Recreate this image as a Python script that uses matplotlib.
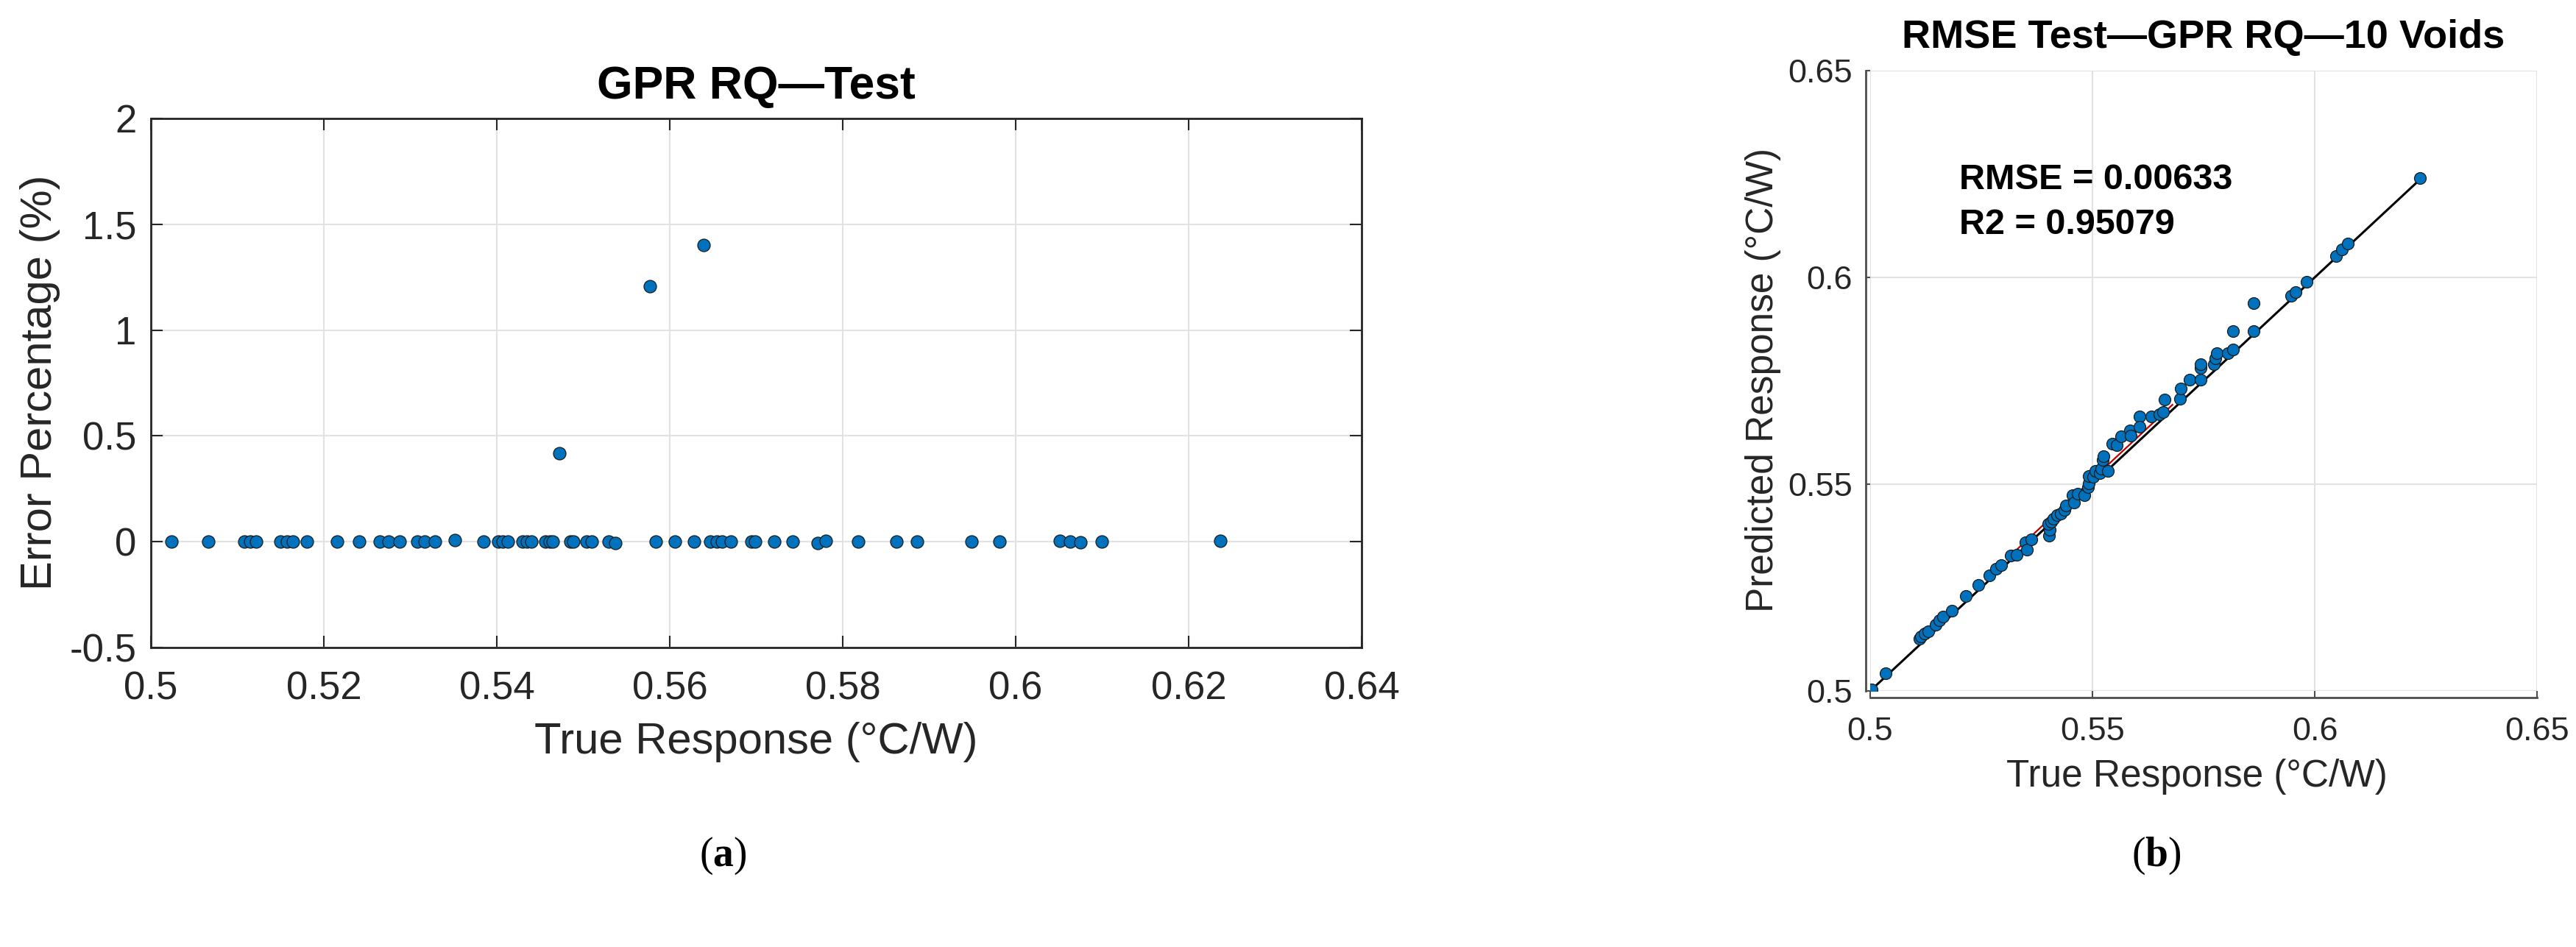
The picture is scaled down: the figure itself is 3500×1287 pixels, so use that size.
import matplotlib
matplotlib.use("Agg")
import matplotlib.pyplot as plt

W, H, DPI = 3500, 1287, 100
plt.rcParams['font.family'] = ['Liberation Sans', 'DejaVu Sans']
plt.rcParams['mathtext.fontset'] = 'custom'
plt.rcParams['mathtext.rm'] = 'Liberation Serif'
plt.rcParams['mathtext.bf'] = 'Liberation Serif:bold'

# ---------------- data ----------------
# (a) GPR RQ - Test : error percentage vs true response
err_true = [0.50242, 0.50660, 0.51078, 0.51145, 0.51221, 0.51496, 0.51572, 0.51639,
            0.51800, 0.52152, 0.52409, 0.52646, 0.52751, 0.52874, 0.53083, 0.53169,
            0.53283, 0.53511, 0.53843, 0.54014, 0.54071, 0.54128, 0.54299, 0.54347,
            0.54404, 0.54565, 0.54613, 0.54651, 0.54850, 0.54888, 0.55040, 0.55097,
            0.55297, 0.55373, 0.55838, 0.56057, 0.56285, 0.56466, 0.56542, 0.56608,
            0.56703, 0.56941, 0.56988, 0.57207, 0.57425, 0.57710, 0.57805, 0.58176,
            0.58622, 0.58860, 0.59487, 0.59810, 0.60513, 0.60627, 0.60751, 0.60998,
            0.62366, 0.54727, 0.55772, 0.56389]
err_pct = [0.0, 0.0, 0.0, 0.0, 0.0, 0.0, 0.0, 0.0,
           0.0, 0.0, 0.0, 0.0, 0.0, 0.0, 0.0, 0.0,
           0.0, 0.008, 0.0, 0.0, 0.0, 0.0, 0.0, 0.0,
           0.0, 0.0, 0.0, 0.0, 0.0, 0.0, 0.0, 0.0,
           0.0, -0.005, 0.0, 0.0, 0.0, 0.0, 0.0, 0.0,
           0.0, 0.0, 0.0, 0.0, 0.0, -0.006, 0.004, 0.0,
           0.0, 0.0, 0.0, 0.0, 0.003, 0.0, -0.004, 0.0,
           0.004, 0.418, 1.207, 1.402]

# (b) RMSE Test - GPR RQ - 10 Voids : predicted vs true response
rq_true = [0.5003, 0.5034, 0.5111, 0.5114, 0.5123, 0.5131, 0.5147, 0.5156, 0.5164, 0.5183,
           0.5216, 0.5244, 0.5269, 0.5283, 0.5294, 0.5316, 0.5329, 0.5349, 0.5352, 0.5363,
           0.5403, 0.5404, 0.5401, 0.5407, 0.5412, 0.5420, 0.5429, 0.5437, 0.5440, 0.5456,
           0.5459, 0.5467, 0.5481, 0.5490, 0.5492, 0.5492, 0.5501, 0.5506, 0.5517, 0.5520,
           0.5523, 0.5525, 0.5534, 0.5545, 0.5555, 0.5564, 0.5584, 0.5586, 0.5606, 0.5606,
           0.5633, 0.5650, 0.5659, 0.5663, 0.5697, 0.5699, 0.5719, 0.5743, 0.5743, 0.5743,
           0.5774, 0.5776, 0.5779, 0.5804, 0.5817, 0.5817, 0.5863, 0.5863, 0.5947, 0.5957,
           0.5981, 0.6048, 0.6062, 0.6075, 0.6236]
rq_pred = [0.5003, 0.5043, 0.5126, 0.5132, 0.5138, 0.5144, 0.5161, 0.5170, 0.5179, 0.5194,
           0.5230, 0.5256, 0.5280, 0.5295, 0.5304, 0.5327, 0.5330, 0.5360, 0.5342, 0.5366,
           0.5375, 0.5389, 0.5404, 0.5410, 0.5416, 0.5425, 0.5428, 0.5437, 0.5449, 0.5473,
           0.5455, 0.5476, 0.5473, 0.5493, 0.5502, 0.5520, 0.5517, 0.5532, 0.5526, 0.5538,
           0.5559, 0.5568, 0.5532, 0.5597, 0.5594, 0.5615, 0.5630, 0.5618, 0.5663, 0.5639,
           0.5663, 0.5669, 0.5674, 0.5704, 0.5707, 0.5731, 0.5752, 0.5753, 0.5781, 0.5790,
           0.5790, 0.5805, 0.5817, 0.5817, 0.5826, 0.5870, 0.5870, 0.5937, 0.5956, 0.5965,
           0.5989, 0.6051, 0.6067, 0.6081, 0.6241]
ref_line = [0.5, 0.6236]          # perfect-prediction line
fit_range = [0.533, 0.568]        # visible part of the fitted (red) line
fit_slope, fit_icpt = 1.0, 0.0012

rmse_text = "RMSE = 0.00633"
r2_text = "R2 = 0.95079"

left_xticks = [0.5, 0.52, 0.54, 0.56, 0.58, 0.6, 0.62, 0.64]
left_xticklabels = ['0.5', '0.52', '0.54', '0.56', '0.58', '0.6', '0.62', '0.64']
left_yticks = [-0.5, 0, 0.5, 1, 1.5, 2]
left_yticklabels = ['-0.5', '0', '0.5', '1', '1.5', '2']
right_ticks = [0.5, 0.55, 0.6, 0.65]
right_ticklabels = ['0.5', '0.55', '0.6', '0.65']
panel_letters = ['a', 'b']

# ---------------- style ----------------
BLUE = '#0072BD'
DARK = '#262626'
GRID = '#e2e2e2'


def fx(px):
    return px / W


def fy(py):
    return 1 - py / H


fig = plt.figure(figsize=(W / DPI, H / DPI), dpi=DPI)
fig.patch.set_facecolor('white')

# ---------------- (a) ----------------
axL = fig.add_axes([fx(205), fy(880), (1850 - 205) / W, (880 - 161) / H])
axL.set_xlim(0.5, 0.64)
axL.set_ylim(-0.5, 2)
axL.set_xticks(left_xticks)
axL.set_xticklabels(left_xticklabels)
axL.set_yticks(left_yticks)
axL.set_yticklabels(left_yticklabels)
axL.grid(True, color=GRID, linewidth=1.5, zorder=0)
axL.set_axisbelow(True)
for s in axL.spines.values():
    s.set_color(DARK)
    s.set_linewidth(2)
axL.tick_params(axis='both', direction='in', length=11.5, width=1.5, color=DARK,
                labelsize=38, labelcolor=DARK, top=True, right=True)
axL.tick_params(axis='x', pad=23)
axL.tick_params(axis='y', pad=14)
axL.scatter(err_true, err_pct, s=150, facecolor=BLUE, edgecolor='#1a1a1a',
            linewidth=0.9, zorder=3)

fig.text(fx(1027), fy(134), "GPR RQ\u2014Test", ha='center', va='baseline',
         fontsize=45, fontweight='bold', color='black')
fig.text(fx(1027), fy(981), "True Response (\u00b0C/W)", ha='center', va='top',
         fontsize=43, color=DARK)
fig.text(fx(55), fy(520), "Error Percentage (%)", ha='center', va='center',
         rotation=90, fontsize=43, color=DARK)

# ---------------- (b) ----------------
axR = fig.add_axes([fx(2541), fy(939), (3447 - 2541) / W, (939 - 96) / H])
axR.set_xlim(0.5, 0.65)
axR.set_ylim(0.5, 0.65)
axR.set_xticks(right_ticks)
axR.set_xticklabels(right_ticklabels)
axR.set_yticks(right_ticks)
axR.set_yticklabels(right_ticklabels)
axR.grid(True, color=GRID, linewidth=1.5, zorder=0)
axR.set_axisbelow(True)
axR.spines['top'].set_visible(False)
axR.spines['right'].set_visible(False)
for side, off in (('left', 4.5), ('bottom', 6.5)):
    axR.spines[side].set_color('#4d4d4d')
    axR.spines[side].set_linewidth(2)
    axR.spines[side].set_position(('outward', off))
axR.tick_params(axis='both', direction='in', width=1.5, color='#4d4d4d',
                labelsize=32.5, labelcolor=DARK)
axR.tick_params(axis='x', pad=19, length=6.5)
axR.tick_params(axis='y', pad=13, length=4.5)

axR.plot(ref_line, ref_line, color='black', linewidth=2.2, zorder=2)
axR.plot(fit_range, [fit_slope * v + fit_icpt for v in fit_range],
         color='#c00000', linewidth=1.6, zorder=2.5)
axR.scatter(rq_true, rq_pred, s=132, facecolor=BLUE, edgecolor='#1a1a1a',
            linewidth=0.9, zorder=3)

fig.text(fx(2662), fy(257), rmse_text, ha='left', va='baseline',
         fontsize=35, fontweight='bold', color='black')
fig.text(fx(2662), fy(318), r2_text, ha='left', va='baseline',
         fontsize=35, fontweight='bold', color='black')

fig.text(fx(2994), fy(65), "RMSE Test\u2014GPR RQ\u201410 Voids", ha='center',
         va='baseline', fontsize=39, fontweight='bold', color='black')
fig.text(fx(2985), fy(1031), "True Response (\u00b0C/W)", ha='center', va='top',
         fontsize=37, color=DARK)
fig.text(fx(2395), fy(517), "Predicted Response (\u00b0C/W)", ha='center',
         va='center', rotation=90, fontsize=37, color=DARK)

# ---------------- sub-figure labels ----------------
for xc, letter in zip((982, 2930), panel_letters):
    fig.text(fx(xc), fy(1163), "($\\mathbf{%s}$)" % letter, ha='center',
             va='center', fontsize=40, family='Liberation Serif', color='black')

fig.savefig("out.png", dpi=DPI, facecolor='white')
